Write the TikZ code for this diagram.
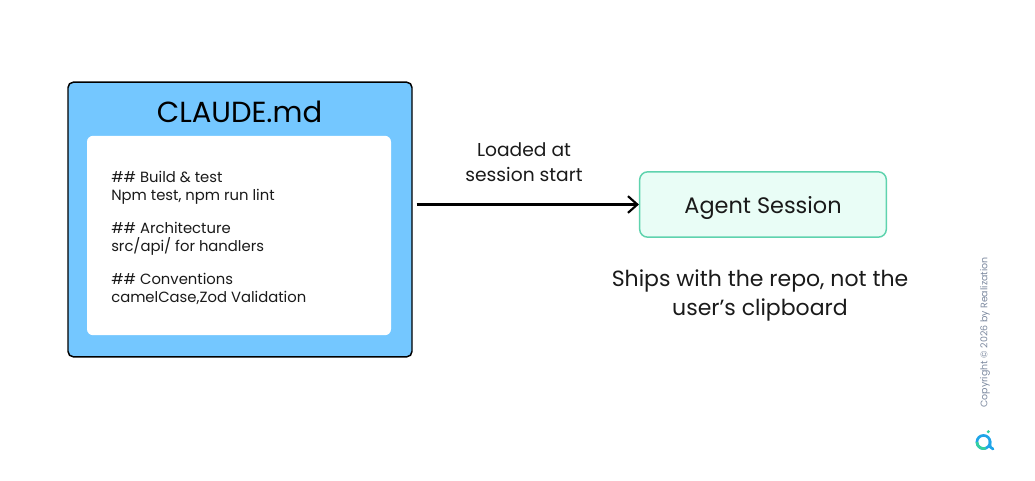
\documentclass[tikz,border=0pt]{standalone}
\usepackage{fontspec}
\setmainfont{Poppins}
\usetikzlibrary{positioning,arrows.meta}
\definecolor{panelblue}{HTML}{74C7FF}
\definecolor{mintfill}{HTML}{E9FDF6}
\definecolor{mintline}{HTML}{5FD3AE}
\definecolor{inktext}{HTML}{1A1A1A}
\definecolor{notegray}{HTML}{7D8AA0}
\definecolor{logoblue}{HTML}{1FA5E8}
\definecolor{logogreen}{HTML}{35D0A0}
\tikzset{
  panelbox/.style={draw=black,line width=1.1pt,fill=panelblue,rounded corners=4pt,minimum width=258pt,minimum height=206pt,inner sep=0pt},
  innerbox/.style={fill=white,rounded corners=4.5pt,minimum width=228pt,minimum height=149.5pt,inner sep=0pt},
  sessionbox/.style={draw=mintline,line width=1.1pt,fill=mintfill,rounded corners=6pt,minimum width=185pt,minimum height=49pt,inner sep=0pt},
  linetext/.style={text=inktext,font=\fontsize{11.1}{14.2}\selectfont,align=left,inner sep=0pt,anchor=north west},
  flowarrow/.style={line width=1.8pt,-{Straight Barb[length=7pt,width=12.5pt,line width=1.6pt]}},
}
\begin{document}
\begin{tikzpicture}[x=0.75pt,y=-0.75pt]
    \useasboundingbox (0,0) rectangle (1035,480);
    \fill[white] (0,0) rectangle (1035,480);

    % Boxes
    \node[panelbox] (claude) at (240,219.5) {};
    \node[innerbox] (inner) at (239,235.5) {};
    \node[font=\fontsize{21.8}{24}\selectfont,text=black] (title) at (239.5,112) {CLAUDE.md};
    \node[sessionbox] (agent) at (763,204.5) {};
    \node[font=\fontsize{16.8}{18}\selectfont,text=inktext] (agentlabel) at (763,207.5) {Agent Session};

    % Lines in the inner box
    \node[linetext] (build) at (111,170.5) {\#\# Build \& test\\Npm test, npm run lint};
    \node[linetext] (arch) at (111,221.5) {\#\# Architecture\\src/api/ for handlers};
    \node[linetext] (conv) at (111,272.5) {\#\# Conventions\\camelCase,Zod Validation};

    % Arrow
    \draw[flowarrow,shorten <=3pt] (claude.east |- agent.west) -- (agent.west);
    \node[font=\fontsize{14}{18.5}\selectfont,text=inktext,align=center] (loaded) at (524,162) {Loaded at\\session start};
    \node[font=\fontsize{16.5}{21.5}\selectfont,text=inktext,align=center] (ships) at (760,295.5) {Ships with the repo, not the\\user’s clipboard};

    % Side note
    \node[font=\fontsize{7.1}{8}\selectfont,text=notegray,rotate=90] (copy) at (985,332.5) {Copyright © 2026 by Realization};
    \draw[logoblue,line width=2pt] (983.5,442) circle (6.6);
    \draw[logogreen,line width=2pt] (976.9,442) arc (180:70:6.6);
    \draw[logoblue,line width=2pt,line cap=round] (990,441) -- (990.2,447) -- (993,449);
    \fill[logogreen] (988.3,431.7) circle (1.7);
\end{tikzpicture}
\end{document}
